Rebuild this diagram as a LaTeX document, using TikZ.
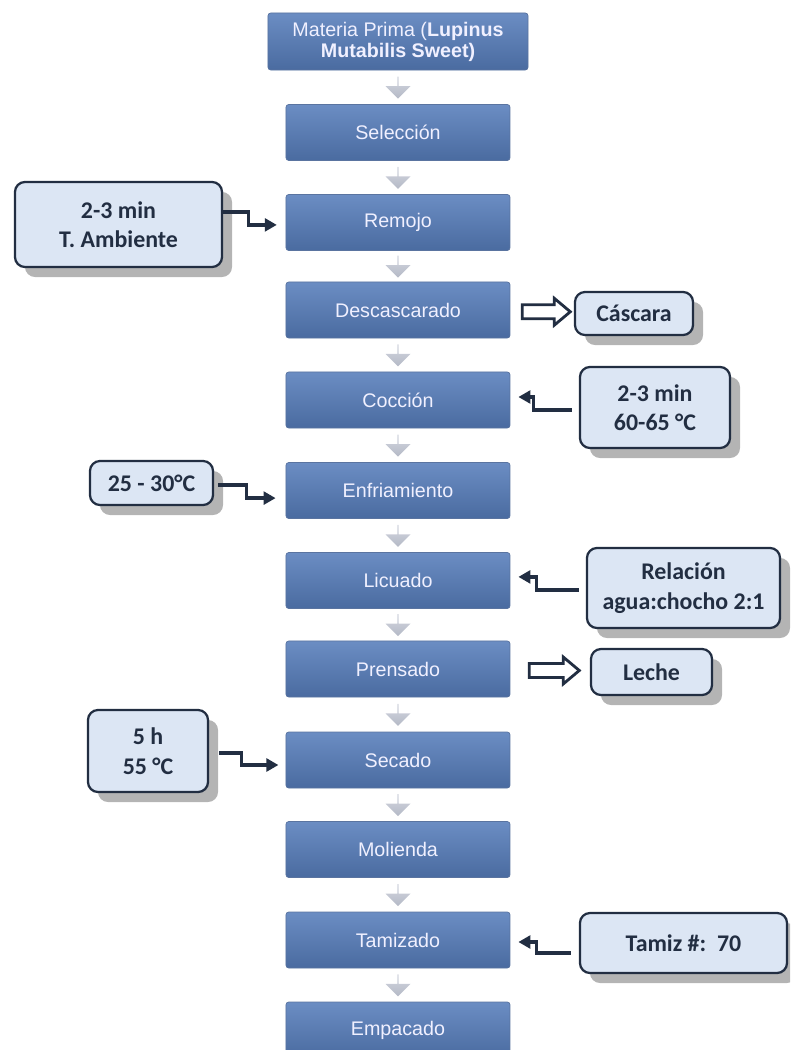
\documentclass[tikz,border=0pt]{standalone}
\usepackage{fontspec}
\setmainfont{Liberation Sans}
\newfontfamily\carlito{Carlito}
\usetikzlibrary{arrows.meta,shapes.arrows,shadows}

\definecolor{pasoarriba}{HTML}{6B8DC3}
\definecolor{pasoabajo}{HTML}{4A6BA0}
\definecolor{pasoborde}{HTML}{5A74A0}
\definecolor{datofondo}{HTML}{DCE6F4}
\definecolor{azuloscuro}{HTML}{222E42}
\definecolor{sombra}{HTML}{B4B4B4}
\definecolor{grisarriba}{HTML}{D4D7E0}
\definecolor{grisabajo}{HTML}{B4B9C6}

\tikzset{
  paso/.style={rectangle, rounded corners=2pt, top color=pasoarriba, bottom color=pasoabajo,
    draw=pasoborde, line width=0.5pt, text=white!94!blue, font=\fontsize{14}{16}\selectfont,
    minimum width=5.6cm, minimum height=1.4cm, align=center, inner sep=0pt},
  dato/.style={rectangle, rounded corners=0.25cm, fill=datofondo, draw=azuloscuro, line width=1.6pt,
    text=azuloscuro, font=\carlito\bfseries\fontsize{17}{21}\selectfont, align=center, inner sep=0pt,
    drop shadow={shadow xshift=0.25cm, shadow yshift=-0.25cm, fill=sombra, opacity=1}},
  bajada/.style={single arrow, shape border rotate=270, top color=grisarriba, bottom color=grisabajo, draw=none,
    minimum height=0.55cm, minimum width=0.625cm, single arrow head extend=0.14cm, inner sep=0pt},
  salida/.style={single arrow, draw=azuloscuro, fill=white, line width=2pt, minimum height=1.2cm,
    single arrow head extend=0.16cm, single arrow tip angle=80, inner sep=0pt},
  conector/.style={draw=azuloscuro, line width=2.3pt, -{Triangle[length=0.3cm,width=0.32cm]}},
}

\begin{document}
\begin{tikzpicture}[x=0.025cm, y=-0.025cm]
\useasboundingbox (0,0) rectangle (790,1050);
\clip (0,0) rectangle (790,1050);

\node[paso, minimum width=6.5cm, minimum height=1.425cm, font=\fontsize{14}{15}\selectfont] (materia) at (398,41.5)
  {Materia Prima (\textbf{Lupinus}\\\textbf{Mutabilis Sweet)}};
\node[paso] (seleccion) at (398,132.5) {Selección};
\node[paso] (remojo) at (398,222.5) {Remojo};
\node[paso] (descascarado) at (398,310) {Descascarado};
\node[paso] (coccion) at (398,400) {Cocción};
\node[paso] (enfriamiento) at (398,490.5) {Enfriamiento};
\node[paso] (licuado) at (398,580.5) {Licuado};
\node[paso] (prensado) at (398,669) {Prensado};
\node[paso] (secado) at (398,760) {Secado};
\node[paso] (molienda) at (398,849.5) {Molienda};
\node[paso] (tamizado) at (398,940) {Tamizado};
\node[paso] (empacado) at (398,1030) {Empacado};

\foreach \a/\b in {materia/seleccion, seleccion/remojo, remojo/descascarado, descascarado/coccion,
  coccion/enfriamiento, enfriamiento/licuado, licuado/prensado, prensado/secado,
  secado/molienda, molienda/tamizado, tamizado/empacado}
  \path (\a.south) -- (\b.north) node[midway, bajada] {};

\node[dato, minimum width=5.175cm, minimum height=2.125cm] (ambiente) at (118.5,224.5) {2-3 min\\T. Ambiente};
\node[dato, minimum width=2.95cm, minimum height=1.075cm] (cascara) at (634,313.5) {Cáscara};
\node[dato, minimum width=3.75cm, minimum height=2.025cm] (temp) at (655,407.5) {2-3 min\\60-65 °C};
\node[dato, minimum width=3.075cm, minimum height=1.1cm] (frio) at (151.5,483) {25 - 30°C};
\node[dato, minimum width=4.825cm, minimum height=2cm] (relacion) at (683.5,588) {Relación\\agua:chocho 2:1};
\node[dato, minimum width=3.025cm, minimum height=1.15cm] (leche) at (651.5,672) {Leche};
\node[dato, minimum width=3cm, minimum height=2.05cm] (horno) at (148,751) {5 h\\55 °C};
\node[dato, minimum width=5.175cm, minimum height=1.5cm] (tamiz) at (683.5,943) {Tamiz \#:\ \ 70};

\path (descascarado.east) -- (cascara.west) node[midway, salida] {\rule{0pt}{0.28cm}};
\path (prensado.east) -- (leche.west) node[midway, salida, minimum height=1.25cm] {\rule{0pt}{0.28cm}};

\draw[conector, shorten >=0.22cm] ([yshift=0.31cm]ambiente.east) -- ++(25,0) |- ([yshift=-0.06cm]remojo.west);
\draw[conector, shorten <=0.18cm, shorten >=0.2cm] ([yshift=-0.06cm]temp.west) -- ++(-45,0) |- ([yshift=0.075cm]coccion.east);
\draw[conector, shorten <=0.1cm, shorten >=0.25cm] ([yshift=-0.05cm]frio.east) -- ++(32,0) |- ([yshift=-0.19cm]enfriamiento.west);
\draw[conector, shorten <=0.18cm, shorten >=0.2cm] ([yshift=-0.05cm]relacion.west) -- ++(-49,0) |- ([yshift=0.09cm]licuado.east);
\draw[conector, shorten <=0.25cm, shorten >=0.18cm] ([yshift=-0.05cm]horno.east) -- ++(32,0) |- ([yshift=-0.125cm]secado.west);
\draw[conector, shorten <=0.2cm, shorten >=0.2cm] ([yshift=-0.25cm]tamiz.west) -- ++(-42,0) |- ([yshift=-0.05cm]tamizado.east);

\end{tikzpicture}
\end{document}
